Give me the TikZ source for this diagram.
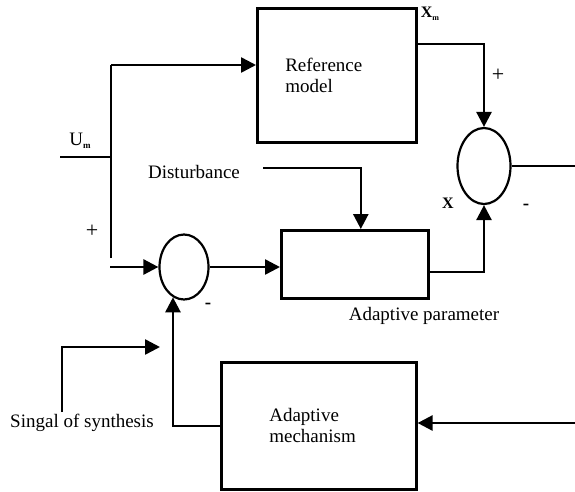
\documentclass[tikz,border=0pt]{standalone}
\usepackage{fontspec}
\setmainfont{Liberation Serif}
\usetikzlibrary{arrows.meta,shapes.geometric}

\tikzset{
  block/.style={draw, line width=2.6pt, inner sep=0pt, align=left},
  sumpt/.style={draw, ellipse, line width=2.2pt, inner sep=0pt},
  wire/.style={line width=2.6pt},
  sig/.style={line width=2.6pt, -{Triangle[length=15pt,width=15pt]}},
}

\begin{document}
\begin{tikzpicture}[x=1pt, y=-1pt, font=\fontsize{19}{21}\selectfont]
	\useasboundingbox (0,0) rectangle (575,491);
	% blocks
	\node [block, anchor=north west, minimum height=134pt, text width=103pt, inner xsep=28pt] (refmodel) at (256,7) {Reference\\model};
	\node [block, anchor=north west, minimum width=147pt, minimum height=68pt] (plant) at (280,229) {};
	\node [block, anchor=north west, minimum height=127pt, text width=99pt, inner xsep=48pt] (mech) at (220,361) {Adaptive\\mechanism};
	\node [sumpt, minimum width=49pt, minimum height=65pt] (sum1) at (184,267) {};
	\node [sumpt, minimum width=53pt, minimum height=76pt] (sum2) at (484,166) {};
	% free ends
	\coordinate (um) at (60,157);
	\coordinate (umtop) at (111,65);
	\coordinate (umbot) at (111,258);
	\coordinate (pin) at (110,267);
	\coordinate (dist) at (263,168);
	\coordinate (err) at (575,166);
	\coordinate (ein) at (575,423);
	\coordinate (syn) at (62,412);
	\coordinate (synend) at (160,347);
	% connections
	\draw [wire] (um) -- (111,157);
	\draw [wire] (umbot) -- (umtop);
	\draw [sig] (umtop) -- (umtop -| refmodel.west);
	\draw [sig] (pin) -- (sum1.west);
	\draw [sig] (sum1.east) -- (sum1.east -| plant.west);
	\draw [sig] (dist) -| ([xshift=6pt]plant.north);
	\draw [sig] (plant.east |- 0,272) -| (sum2.south);
	\draw [sig] (refmodel.east |- 0,44) -| (sum2.north);
	\draw [wire] (sum2.east) -- (err);
	\draw [sig] (ein) -- (ein -| mech.east);
	\draw [sig] (mech.west) -| (sum1.250);
	\draw [sig] (syn) |- (synend);
	% labels
	\node (umlbl) at (80,141) {U\raisebox{-0.4ex}{\fontsize{9}{9}\selectfont\bfseries m}};
	\node (xmlbl) at (430,14) {\fontsize{16}{16}\selectfont\bfseries X\raisebox{-0.4ex}{\fontsize{8}{8}\selectfont m}};
	\node (plus1) at (92,231) {\fontsize{22}{22}\selectfont +};
	\node (plus2) at (498,75) {\fontsize{22}{22}\selectfont +};
	\node (minus1) at (208,306) {\bfseries -};
	\node (minus2) at (526,207) {\bfseries -};
	\node (xlbl) at (448,203) {\fontsize{16}{16}\selectfont\bfseries X};
	\node (distlbl) at (194,172) {Disturbance};
	\node (parlbl) at (424,316) {Adaptive parameter};
	\node (synlbl) at (82,423) {Singal of synthesis};
\end{tikzpicture}
\end{document}
